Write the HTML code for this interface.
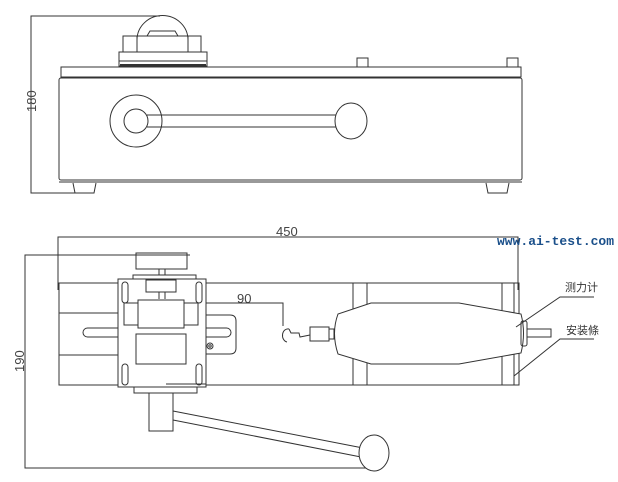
<!DOCTYPE html>
<html><head><meta charset="utf-8"><style>
html,body{margin:0;padding:0;background:#fff;width:618px;height:482px;overflow:hidden}
svg{display:block}
</style></head><body>
<svg width="618" height="482" viewBox="0 0 618 482" xmlns="http://www.w3.org/2000/svg" fill="none" stroke="#333" stroke-width="1">
<!-- TOP VIEW -->
<polyline points="160,16 31,16 31,193 80,193"/>
<text x="0" y="0" transform="translate(36,112) rotate(-90)" font-family="Liberation Sans, sans-serif" font-size="13" fill="#444" stroke="none">180</text>
<!-- handle box -->
<path d="M137,40 A25,24 0 0 1 188,40"/>
<path d="M147,36 L150,31 L175,31 L178,36"/>
<rect x="123" y="36" width="78" height="16"/>
<line x1="137" y1="36" x2="137" y2="52"/><line x1="188" y1="36" x2="188" y2="52"/>
<rect x="119" y="52" width="88" height="14"/>
<line x1="119" y1="61" x2="207" y2="61"/>
<line x1="120" y1="65" x2="206" y2="65" stroke-width="2"/>
<!-- pins -->
<rect x="357" y="58" width="11" height="9"/>
<rect x="507" y="58" width="11" height="9"/>
<!-- plate -->
<rect x="61" y="67" width="460" height="10"/>
<!-- body -->
<path d="M60,79 L60,210" stroke="none"/>
<rect x="59" y="78" width="463" height="102" rx="2"/>
<line x1="59" y1="182" x2="522" y2="182"/>
<!-- feet -->
<path d="M73,183 L75,193 L94,193 L96,183"/>
<path d="M486,183 L488,193 L507,193 L509,183"/>
<!-- crank -->
<circle cx="136" cy="121" r="26"/>
<circle cx="136" cy="121" r="12"/>
<path d="M147,115 L336,115 M147,127 L336,127"/>
<ellipse cx="351" cy="121" rx="16" ry="18"/>

<!-- BOTTOM VIEW -->
<text x="276" y="236" font-family="Liberation Sans, sans-serif" font-size="13" fill="#444" stroke="none">450</text>
<polyline points="58,290 58,237 518,237 518,290"/>
<text x="497" y="245" font-family="Liberation Mono, monospace" font-size="13" font-weight="bold" fill="#1a4f8a" stroke="none">www.ai-test.com</text>
<polyline points="190,255 25,255 25,468 375,468"/>
<text x="0" y="0" transform="translate(24,372) rotate(-90)" font-family="Liberation Sans, sans-serif" font-size="13" fill="#444" stroke="none">190</text>
<!-- base -->
<rect x="59" y="283" width="460" height="102"/>
<line x1="59" y1="313" x2="118" y2="313"/>
<line x1="59" y1="355" x2="118" y2="355"/>
<!-- bands -->
<line x1="353" y1="283" x2="353" y2="385"/><line x1="367" y1="283" x2="367" y2="385"/>
<line x1="502" y1="283" x2="502" y2="385"/><line x1="514" y1="283" x2="514" y2="385"/>
<!-- slide plate -->
<path d="M206,315 L230,315 Q236,315 236,321 L236,348 Q236,354 230,354 L206,354"/>
<rect x="83" y="328" width="148" height="9" rx="4.5" fill="#fff"/>
<circle cx="210" cy="346" r="3"/><circle cx="210" cy="346" r="1.2"/>
<!-- knob -->
<rect x="136" y="253" width="51" height="16"/>
<rect x="159" y="269" width="6" height="6"/>
<rect x="133" y="275" width="63" height="4"/>
<!-- carriage -->
<rect x="118" y="279" width="88" height="108" fill="#fff"/>
<rect x="146" y="280" width="30" height="12"/>
<line x1="159" y1="292" x2="159" y2="299"/><line x1="165" y1="292" x2="165" y2="299"/>
<rect x="124" y="303" width="14" height="22"/>
<rect x="184" y="303" width="14" height="22"/>
<rect x="138" y="300" width="46" height="28"/>
<rect x="136" y="334" width="50" height="30"/>
<rect x="122" y="282" width="6" height="21" rx="3"/>
<rect x="196" y="282" width="6" height="21" rx="3"/>
<rect x="122" y="364" width="6" height="21" rx="3"/>
<rect x="196" y="364" width="6" height="21" rx="3"/>
<line x1="166" y1="384" x2="206" y2="384"/>
<rect x="134" y="387" width="63" height="6"/>
<rect x="149" y="393" width="24" height="38"/>
<!-- handle -->
<line x1="173" y1="411" x2="363" y2="448"/>
<line x1="173" y1="420" x2="361" y2="457"/>
<ellipse cx="374" cy="453" rx="15" ry="18" fill="#fff"/>
<!-- 90 dim -->
<text x="237" y="303" font-family="Liberation Sans, sans-serif" font-size="13" fill="#444" stroke="none">90</text>
<polyline points="206,303 283,303 283,326"/>
<!-- hook -->
<path d="M289,329 A5,6 0 1 0 287,342"/>
<path d="M289,329 L291,333 L299,333 L300,337 L310,335"/>
<rect x="310" y="327" width="19" height="14"/>
<rect x="329" y="329" width="5" height="10"/>
<!-- gauge -->
<path d="M371,303 L459,303 L521,314 Q526,333 521,353 L459,364 L371,364 L338,354 Q331,333 338,314 Z" fill="#fff"/>
<rect x="521" y="321" width="6" height="25" rx="2"/>
<rect x="527" y="329" width="24" height="8"/>
<!-- labels -->
<text x="565" y="291" font-family="Liberation Sans, 'Noto Sans CJK SC', sans-serif" font-size="11" fill="#333" stroke="none">测力计</text>
<text x="566" y="334" font-family="Liberation Sans, 'Noto Sans CJK SC', sans-serif" font-size="11" fill="#333" stroke="none">安装條</text>
<polyline points="594,297 560,297 516,327"/>
<polyline points="594,339 560,339 514,376"/>
</svg>
</body></html>
